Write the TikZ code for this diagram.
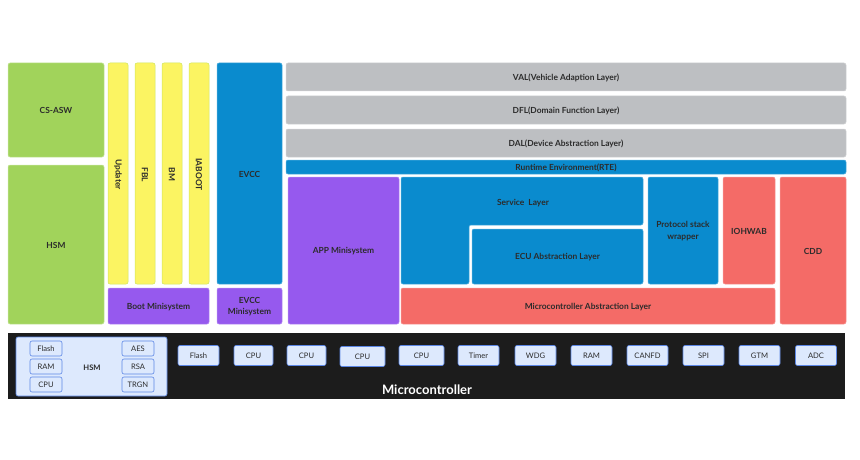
\documentclass[tikz,border=0pt]{standalone}
\usepackage{fontspec}
\setmainfont{Lato}
\usetikzlibrary{fit}
\definecolor{cgreen}{HTML}{A1D35B}
\definecolor{cyellow}{HTML}{FBF462}
\definecolor{cblue}{HTML}{0A8BCE}
\definecolor{cpurple}{HTML}{9659EE}
\definecolor{cred}{HTML}{F46B67}
\definecolor{cgray}{HTML}{BDBFC2}
\definecolor{cdark}{HTML}{1C1C1C}
\definecolor{clight}{HTML}{DDE9FD}
\definecolor{cborder}{HTML}{5B86E5}
\definecolor{ctext}{HTML}{2B2B2B}
\begin{document}
\begin{tikzpicture}[x=1pt,y=-1pt,
  lbl/.style={inner sep=0pt, text=ctext, font=\fontsize{8.4}{11.5}\selectfont\bfseries, align=center, yshift=-0.6pt},
  blk/.style={inner sep=0pt, outer sep=0pt, rounded corners=2pt, line width=0.5pt},
  green/.style={blk, fill=cgreen, draw=cgreen!60!white},
  yel/.style={blk, fill=cyellow, draw=cgreen!50!cyellow},
  blu/.style={blk, fill=cblue, draw=cblue!70!white},
  pur/.style={blk, fill=cpurple, draw=cpurple!70!white},
  rd/.style={blk, fill=cred, draw=cred!70!white},
  gry/.style={blk, fill=cgray, draw=cgray!70!white},
  chip/.style={draw=cborder, fill=clight, line width=0.6pt, rounded corners=2pt,
     inner sep=0pt, minimum width=41pt, minimum height=20pt, text=ctext,
     font=\fontsize{7.6}{9}\selectfont},
  hchip/.style={chip, minimum width=32pt, minimum height=15pt}]
\useasboundingbox (0,0) rectangle (860,460);
% left column
\node[green, fit={(8,63)(104,157)}] (csasw) {};
\node[lbl] at (csasw.center) {CS-ASW};
\node[green, fit={(8,165)(104,324)}] (hsm) {};
\node[lbl] at (hsm.center) {HSM};
\node[yel, fit={(108,63)(128,284)}] (updater) {};
\node[yel, fit={(135,63)(155,284)}] (fbl) {};
\node[yel, fit={(162,63)(182,284)}] (bm) {};
\node[yel, fit={(189,63)(209,284)}] (iaboot) {};
\node[lbl, rotate=-90, yshift=0pt] at (118,174) {Updater};
\node[lbl, rotate=-90, yshift=0pt] at (145,174) {FBL};
\node[lbl, rotate=-90, yshift=0pt] at (172,174) {BM};
\node[lbl, rotate=-90, yshift=0pt] at (199,174) {IABOOT};
\node[pur, fit={(108,288)(209,324)}] (boot) {};
\node[lbl] at (boot.center) {Boot Minisystem};
\node[blu, fit={(217,63)(282,284)}] (evcc) {};
\node[lbl] at (evcc.center) {EVCC};
\node[pur, fit={(217,288)(282,324)}] (evccmini) {};
\node[lbl] at (evccmini.center) {EVCC\\Minisystem};
% layers
\node[gry, fit={(286,63)(846,91)}] (val) {};
\node[lbl] at (val.center) {VAL(Vehicle Adaption Layer)};
\node[gry, fit={(286,96)(846,124)}] (dfl) {};
\node[lbl] at (dfl.center) {DFL(Domain Function Layer)};
\node[gry, fit={(286,129)(846,157)}] (dal) {};
\node[lbl] at (dal.center) {DAL(Device Abstraction Layer)};
\node[blu, fit={(286,160)(846,174)}] (rte) {};
\node[lbl] at (rte.center) {Runtime Environment(RTE)};
\node[pur, fit={(288,177)(399,324)}] (app) {};
\node[lbl] at (app.center) {APP Minisystem};
\draw[fill=cblue, draw=cblue!70!white, line width=0.5pt, rounded corners=2pt]
  (401,177) -- (643,177) -- (643,225) -- (469,225) -- (469,284) -- (401,284) -- cycle;
\node[lbl] (service) at (523,202) {Service\ \ Layer};
\node[blu, fit={(472,229)(643,284)}] (ecu) {};
\node[lbl] at (ecu.center) {ECU Abstraction Layer};
\node[rd, fit={(401,288)(775,324)}] (mcal) {};
\node[lbl] at (mcal.center) {Microcontroller Abstraction Layer};
\node[blu, fit={(648,177)(718,284)}] (psw) {};
\node[lbl] at (psw.center) {Protocol stack\\wrapper};
\node[rd, fit={(723,177)(775,284)}] (iohwab) {};
\node[lbl] at (iohwab.center) {IOHWAB};
\node[rd, fit={(780,177)(846,324)}] (cdd) {};
\node[lbl] at (cdd.center) {CDD};
% microcontroller
\node[fill=cdark, inner sep=0pt, outer sep=0pt, fit={(8,333)(845,399)}] (mcu) {};
\node[text=white, font=\fontsize{13}{15}\selectfont\bfseries] (mculabel) at (427,390) {Microcontroller};
\node[chip, fit={(16,337)(167,396)}, minimum width=0pt, minimum height=0pt] (hsmbox) {};
\node[lbl, font=\fontsize{7.6}{9}\selectfont\bfseries] (hsmlabel) at (92,367) {HSM};
\node[hchip] (hflash) at (46,348.5) {Flash};
\node[hchip] (hram) at (46,366.5) {RAM};
\node[hchip] (hcpu) at (46,384.5) {CPU};
\node[hchip] (haes) at (138,348.5) {AES};
\node[hchip] (hrsa) at (138,366.5) {RSA};
\node[hchip] (htrgn) at (138,384.5) {TRGN};
\node[chip] (flash) at (198.5,355.5) {Flash};
\node[chip, minimum width=39pt] (cpu1) at (253.5,355.5) {CPU};
\node[chip, minimum width=39pt] (cpu2) at (306.5,355.5) {CPU};
\node[chip, minimum width=45pt] (cpu3) at (362.5,356.5) {CPU};
\node[chip, minimum width=45pt] (cpu4) at (421.5,355.5) {CPU};
\node[chip] (timer) at (478.5,355.5) {Timer};
\node[chip] (wdg) at (535.5,355.5) {WDG};
\node[chip] (ram) at (591.5,355.5) {RAM};
\node[chip] (canfd) at (647.5,355.5) {CANFD};
\node[chip] (spi) at (703.5,355.5) {SPI};
\node[chip] (gtm) at (759.5,355.5) {GTM};
\node[chip] (adc) at (816,355.5) {ADC};
\end{tikzpicture}
\end{document}
